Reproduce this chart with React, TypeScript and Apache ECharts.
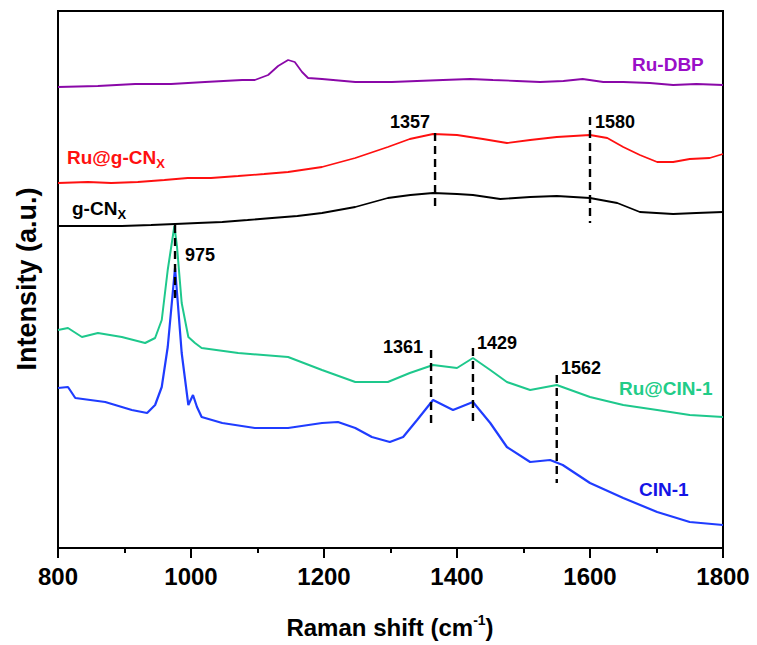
import React, { useEffect, useRef } from "react";
import * as echarts from "echarts";

// Raman shift (cm-1) and intensity (a.u., offset stacked)
const dbpX = [800, 860, 916, 970, 1021, 1077, 1096, 1116, 1131, 1146, 1156, 1167, 1176, 1197, 1247, 1302, 1340, 1379, 1420, 1454, 1490, 1525, 1560, 1589, 1620, 1650, 1690, 1725, 1760, 1800];
const dbpY = [461, 462, 464, 464, 466, 468, 468, 473, 482, 488, 486, 476, 470, 469, 466, 466, 467, 468, 469, 468, 467, 466, 467, 469, 466, 466, 465, 463, 464, 463];

const rugcnX = [800, 845, 880, 920, 960, 995, 1030, 1071, 1110, 1146, 1197, 1247, 1296, 1329, 1364, 1400, 1439, 1475, 1510, 1550, 1600, 1626, 1650, 1675, 1701, 1725, 1750, 1780, 1800];
const rugcnY = [365, 366, 365, 366, 368, 370, 370, 372, 374, 376, 381, 390, 401, 409, 414, 413, 409, 405, 408, 411, 413, 410, 401, 393, 386, 386, 389, 390, 394];

const gcnX = [800, 850, 896, 940, 976, 1010, 1047, 1085, 1122, 1160, 1197, 1247, 1296, 1330, 1364, 1400, 1424, 1465, 1510, 1550, 1600, 1641, 1675, 1725, 1760, 1800];
const gcnY = [322, 322, 322, 323, 324, 325, 326, 328, 330, 332, 335, 341, 350, 353, 355, 354, 353, 349, 351, 352, 350, 345, 336, 334, 335, 336];

const rucinX = [800, 815, 836, 860, 896, 931, 946, 956, 965, 975, 979, 986, 996, 1006, 1016, 1071, 1146, 1197, 1247, 1296, 1329, 1364, 1400, 1424, 1450, 1475, 1510, 1550, 1600, 1650, 1701, 1750, 1800];
const rucinY = [218, 220, 211, 215, 211, 205, 210, 228, 278, 322, 301, 245, 211, 205, 200, 195, 191, 178, 166, 166, 175, 183, 180, 190, 178, 166, 158, 163, 151, 143, 138, 133, 131];

const cinX = [800, 815, 826, 871, 911, 934, 946, 956, 965, 976, 979, 986, 996, 1003, 1009, 1016, 1047, 1096, 1146, 1197, 1221, 1247, 1272, 1299, 1319, 1340, 1364, 1394, 1424, 1450, 1475, 1510, 1540, 1559, 1600, 1650, 1701, 1750, 1800];
const cinY = [160, 161, 150, 146, 138, 135, 143, 161, 201, 280, 255, 195, 143, 153, 141, 131, 125, 120, 120, 125, 126, 120, 111, 106, 111, 128, 148, 138, 146, 125, 101, 86, 88, 83, 65, 50, 36, 26, 23];

// dashed peak markers
const markerX = [976, 1367, 1600, 1361, 1424, 1550];
const markerTop = [323, 415, 431, 198, 200, 173];
const markerBottom = [246, 340, 325, 125, 125, 65];

// x-axis tick labels
const xTicks = [800, 1000, 1200, 1400, 1600, 1800];

const FONT = "Arial, 'Liberation Sans', sans-serif";

const zip = (xs: number[], ys: number[]) => xs.map((x, i) => [x, ys[i]]);

export default function App() {
  const ref = useRef<HTMLDivElement>(null);
  useEffect(() => {
    document.body.style.margin = "0";
    const chart = echarts.init(ref.current!, null, { renderer: "svg" });
    const spectra = [
      { name: "Ru-DBP", x: dbpX, y: dbpY, color: "#8a08a8", w: 1.8 },
      { name: "Ru@g-CNx", x: rugcnX, y: rugcnY, color: "#ff1010", w: 1.8 },
      { name: "g-CNx", x: gcnX, y: gcnY, color: "#000000", w: 1.8 },
      { name: "Ru@CIN-1", x: rucinX, y: rucinY, color: "#1ec88c", w: 2 },
      { name: "CIN-1", x: cinX, y: cinY, color: "#1f3cff", w: 2.2 },
    ];
    const series: any[] = spectra.map((s) => ({
      type: "line",
      name: s.name,
      data: zip(s.x, s.y),
      showSymbol: false,
      symbol: "none",
      lineStyle: { color: s.color, width: s.w },
      z: 3,
    }));
    markerX.forEach((x, i) => {
      series.push({
        type: "line",
        data: [
          [x, markerTop[i]],
          [x, markerBottom[i]],
        ],
        symbol: "none",
        lineStyle: { color: "#000", width: 2.4, type: [8, 5] },
        z: 4,
      });
    });
    const bold = { fontFamily: FONT, fontWeight: "bold" as const };
    const txt = (text: string, x: number, y: number, color: string, size: number) => ({
      type: "text",
      x,
      y,
      style: { text, fill: color, fontSize: size, ...bold, textVerticalAlign: "middle" },
      z: 10,
    });
    const option: any = {
      animation: false,
      grid: { left: 58, right: 34, top: 11, bottom: 97, show: true, borderColor: "#000", borderWidth: 2 },
      xAxis: {
        type: "value",
        min: 800,
        max: 1800,
        interval: 200,
        axisLine: { show: true, lineStyle: { color: "#000", width: 2 } },
        axisTick: { show: true, length: 10, lineStyle: { color: "#000", width: 2 } },
        minorTick: { show: true, splitNumber: 2, length: 5, lineStyle: { color: "#000", width: 2 } },
        splitLine: { show: false },
        axisLabel: {
          color: "#000",
          fontSize: 24,
          ...bold,
          margin: 16,
          formatter: (v: number) => (xTicks.includes(v) ? String(v) : ""),
        },
      },
      yAxis: {
        type: "value",
        min: 0,
        max: 537,
        axisLine: { show: true, lineStyle: { color: "#000", width: 2 } },
        axisTick: { show: false },
        axisLabel: { show: false },
        splitLine: { show: false },
      },
      series,
      graphic: [
        txt("975", 185, 255, "#000", 18),
        txt("1357", 390, 122, "#000", 18),
        txt("1580", 595, 122, "#000", 18),
        txt("1361", 383, 347, "#000", 18),
        txt("1429", 477, 343, "#000", 18),
        txt("1562", 561, 368, "#000", 18),
        txt("Ru-DBP", 632, 64, "#9a0fc8", 19),
        {
          type: "text",
          x: 67,
          y: 157,
          z: 10,
          style: {
            text: "{a|Ru@g-CN}{s|X}",
            textVerticalAlign: "middle",
            rich: {
              a: { fontSize: 19, fill: "#ff1010", ...bold },
              s: { fontSize: 13, fill: "#ff1010", ...bold, padding: [12, 0, 0, 0] },
            },
          },
        },
        {
          type: "text",
          x: 72,
          y: 208,
          z: 10,
          style: {
            text: "{a|g-CN}{s|X}",
            textVerticalAlign: "middle",
            rich: {
              a: { fontSize: 19, fill: "#000", ...bold },
              s: { fontSize: 13, fill: "#000", ...bold, padding: [12, 0, 0, 0] },
            },
          },
        },
        txt("Ru@CIN-1", 619, 388, "#22cc88", 19),
        txt("CIN-1", 639, 489, "#1414e6", 19),
        {
          type: "text",
          x: 390,
          y: 627,
          z: 10,
          style: {
            text: "{a|Raman shift (cm}{s|-1}{a|)}",
            textAlign: "center",
            textVerticalAlign: "middle",
            rich: {
              a: { fontSize: 24, fill: "#000", ...bold },
              s: { fontSize: 14, fill: "#000", ...bold, padding: [0, 0, 14, 0] },
            },
          },
        },
        {
          type: "text",
          x: 27,
          y: 279,
          rotation: Math.PI / 2,
          z: 10,
          style: {
            text: "Intensity (a.u.)",
            fill: "#000",
            fontSize: 27,
            ...bold,
            textAlign: "center",
            textVerticalAlign: "middle",
          },
        },
      ],
    };
    chart.setOption(option);
    return () => chart.dispose();
  }, []);
  return <div ref={ref} style={{ width: 757, height: 645 }} />;
}
